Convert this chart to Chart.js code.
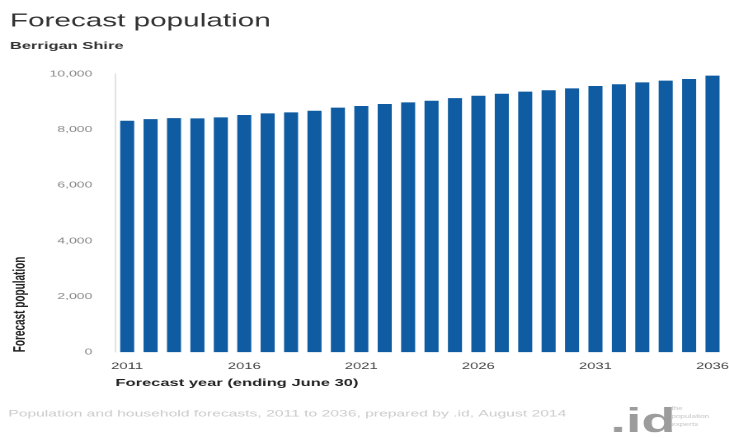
<!DOCTYPE html>
<html lang="en">
<head>
    <meta charset="UTF-8">
    <title>Forecast population</title>
    <script src="https://cdn.jsdelivr.net/npm/chart.js@4/dist/chart.umd.min.js"></script>
    <style>
        body { margin: 0; background: #fff; }
    </style>
</head>
<body>
    <!-- drawn at 442 wide, shown at 729 wide: the wide, stretched look -->
    <canvas id="chart" width="442" height="438" style="width:729px;height:438px"></canvas>
    <script>
        // Berrigan Shire forecast population, years ending June 30
        const years = ['2011', '2012', '2013', '2014', '2015', '2016', '2017', '2018', '2019', '2020',
            '2021', '2022', '2023', '2024', '2025', '2026', '2027', '2028', '2029', '2030',
            '2031', '2032', '2033', '2034', '2035', '2036'];
        const population = [8320, 8380, 8415, 8405, 8440, 8525, 8585, 8620, 8680, 8790,
            8850, 8920, 8980, 9040, 9135, 9220, 9290, 9365, 9415, 9485,
            9570, 9630, 9700, 9760, 9820, 9940];
        const xTickYears = ['2011', '2016', '2021', '2026', '2031', '2036'];
        const yTickValues = [0, 2000, 4000, 6000, 8000, 10000];

        const sourceNote = 'Population and household forecasts, 2011 to 2036, prepared by .id, August 2014';
        const font = '"Liberation Sans", Arial, sans-serif';

        // source line and the .id mark under the chart
        const footer = {
            id: 'footer',
            afterDraw(chart) {
                const ctx = chart.ctx;
                ctx.save();
                ctx.textBaseline = 'middle';
                ctx.fillStyle = '#cbcbcb';
                ctx.font = '9.5px ' + font;
                ctx.fillText(sourceNote, 5, 414);

                ctx.textBaseline = 'alphabetic';
                ctx.fillStyle = '#9c9c9c';
                ctx.font = 'bold 34px ' + font;
                ctx.fillText('.id', 370, 432);

                ctx.fillStyle = '#c4c4c4';
                ctx.font = '5px ' + font;
                ['the', 'population', 'experts'].forEach((w, i) => ctx.fillText(w, 407, 410 + i * 8));
                ctx.restore();
            }
        };

        const ctx = document.getElementById('chart');

        new Chart(ctx, {
            type: 'bar',
            data: {
                labels: years,
                datasets: [{
                    label: 'Forecast population',
                    data: population,
                    backgroundColor: '#0f5ca2',
                    barPercentage: 0.6,
                    categoryPercentage: 1.0
                }]
            },
            options: {
                responsive: false,
                devicePixelRatio: 2,
                animation: false,
                layout: { padding: { left: 6, right: 0, top: 0, bottom: 49 } },
                plugins: {
                    legend: { display: false },
                    tooltip: { enabled: false },
                    title: {
                        display: true,
                        text: 'Forecast population',
                        align: 'start',
                        color: '#333',
                        font: { family: font, size: 18, weight: 'normal' },
                        padding: { top: 10.7, bottom: 8 }
                    },
                    subtitle: {
                        display: true,
                        text: 'Berrigan Shire',
                        align: 'start',
                        color: '#333',
                        font: { family: font, size: 10, weight: 'bold' },
                        padding: { top: 0, bottom: 21.7 }
                    }
                },
                scales: {
                    x: {
                        // hidden tick marks push the labels down
                        grid: { display: false, drawTicks: true, tickLength: 9 },
                        border: { display: false },
                        ticks: {
                            autoSkip: false,
                            maxRotation: 0,
                            padding: 0,
                            color: '#444',
                            font: { family: font, size: 9 },
                            callback(value) {
                                const year = this.getLabelForValue(value);
                                return xTickYears.includes(year) ? year : '';
                            }
                        },
                        title: {
                            display: true,
                            text: 'Forecast year (ending June 30)',
                            align: 'start',
                            color: '#222',
                            font: { family: font, size: 10, weight: 'bold' },
                            padding: { top: 5, bottom: 0 }
                        }
                    },
                    y: {
                        min: 0,
                        max: 10000,
                        grid: { display: false, drawTicks: false },
                        border: { display: true, color: '#e2e2e2' },
                        afterBuildTicks(scale) {
                            scale.ticks = yTickValues.map(v => ({ value: v }));
                        },
                        ticks: {
                            padding: 14,
                            color: '#888',
                            font: { family: font, size: 8.5 },
                            callback: value => value.toLocaleString('en-US')
                        },
                        title: {
                            display: true,
                            text: 'Forecast population',
                            align: 'start',
                            color: '#222',
                            font: { family: font, size: 10, weight: 'bold' },
                            padding: { top: 0, bottom: -2 }
                        }
                    }
                }
            },
            plugins: [footer]
        });
    </script>
</body>
</html>
